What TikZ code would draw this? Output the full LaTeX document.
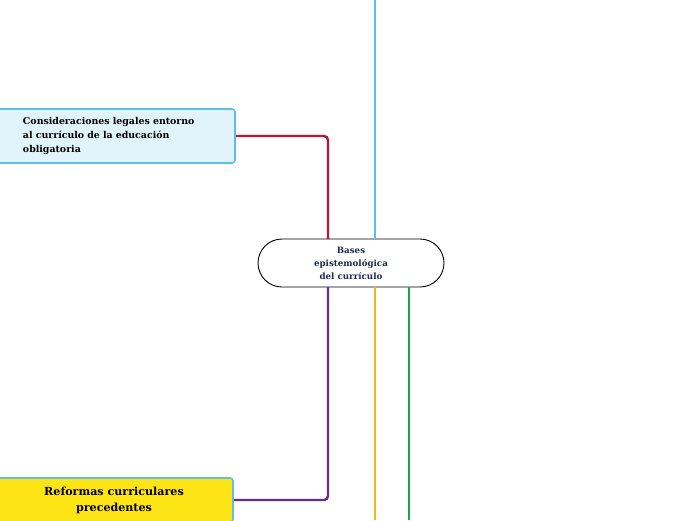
\documentclass[tikz,border=0pt]{standalone}
\usepackage{fontspec}
\setmainfont{DejaVu Serif}
\definecolor{navy}{HTML}{1B2A4E}
\definecolor{legalblue}{HTML}{E1F4FB}
\definecolor{edgeblue}{HTML}{5BC0E6}
\definecolor{reformyellow}{HTML}{FDE415}
\definecolor{linered}{HTML}{C0152F}
\definecolor{linepurple}{HTML}{6A2C91}
\definecolor{lineorange}{HTML}{F6B51C}
\definecolor{linegreen}{HTML}{12A650}
\begin{document}
\begin{tikzpicture}[x=1pt,y=-1pt]
\tikzstyle{topic}=[draw=black, line width=0.9pt, rounded corners=24pt, minimum width=186pt, minimum height=48pt, align=center, text=navy, font=\bfseries\fontsize{8.7}{13}\selectfont]
\tikzstyle{subtopic}=[draw=edgeblue, line width=1.6pt, rounded corners=3pt]
\tikzstyle{branch}=[line width=2.4pt, rounded corners=4pt]
    \useasboundingbox (0,0) rectangle (696,520);

    \node[topic] (main) at (351,263) {Bases\\epistemológica\\del currículo};
    \node[subtopic, fill=legalblue, minimum width=240pt, minimum height=54pt, inner xsep=28pt, text width=184pt, align=left, font=\bfseries\fontsize{9.4}{14}\selectfont] (legal) at (115,136) {Consideraciones legales entorno\\al currículo de la educación\\obligatoria};
    \node[subtopic, fill=reformyellow, minimum width=238pt, minimum height=44pt, align=center, font=\bfseries\fontsize{11.1}{16}\selectfont] (reform) at (114,500) {Reformas curriculares\\precedentes};

    \coordinate (redin) at (328,239);
    \coordinate (purpleout) at (328,287);
    \coordinate (bluetop) at (375,0);
    \coordinate (orangeend) at (375,520);
    \coordinate (greenend) at (409,520);

    \draw[branch, linered] (legal.east) -| (redin);
    \draw[branch, edgeblue] (bluetop) -- (bluetop |- main.north);
    \draw[branch, linepurple] (purpleout) |- (reform.east);
    \draw[branch, lineorange] (orangeend |- main.south) -- (orangeend);
    \draw[branch, linegreen] (greenend |- main.south) -- (greenend);

\end{tikzpicture}
\end{document}
